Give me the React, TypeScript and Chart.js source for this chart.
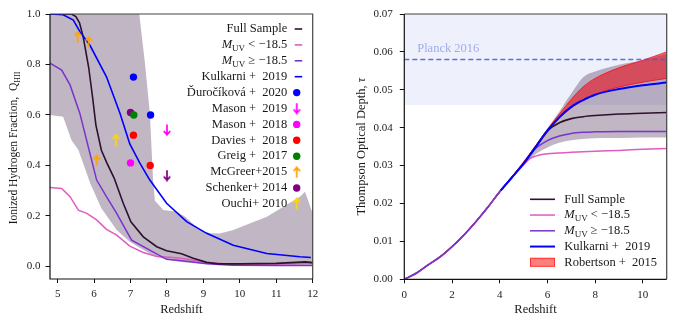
import React, { useEffect, useRef } from 'react';
import { Chart, registerables } from 'chart.js';

Chart.register(...registerables);

const FONT = '"Liberation Serif", "DejaVu Serif", serif';
const TEXT = '#1a1a1a';

// ---------------- Left panel: ionized hydrogen fraction ----------------
const bandZ = [4.79, 5.15, 5.38, 5.57, 5.89, 6.2, 6.62, 6.98, 7.24, 7.4, 7.53, 7.62, 7.67, 7.9, 8.27, 8.5, 8.9, 9.18, 9.45, 9.82, 10.74, 11.65, 11.79, 12.0];
const bandUpper = [1, 1, 1, 1, 1, 1, 1, 1, 1, 0.8, 0.607, 0.34, 0.26, 0.223, 0.216, 0.197, 0.144, 0.131, 0.13, 0.144, 0.197, 0.276, 0.296, 0.21];
const bandLower = [0.6, 0.593, 0.5, 0.461, 0.33, 0.23, 0.144, 0.098, 0.075, 0.062, 0.05, 0.045, 0.042, 0.03, 0.02, 0.015, 0.011, 0.009, 0.007, 0.006, 0.005, 0.005, 0.005, 0.005];

const fullZ = [4.79, 5.0, 5.38, 5.5, 5.6, 5.7, 5.85, 5.95, 6.05, 6.2, 6.35, 6.55, 6.8, 7.01, 7.35, 7.72, 7.99, 8.4, 8.72, 9.09, 9.41, 10, 11, 11.8, 12];
const fullQ = [1, 1, 1, 0.99, 0.965, 0.91, 0.79, 0.68, 0.56, 0.46, 0.41, 0.35, 0.25, 0.177, 0.117, 0.078, 0.062, 0.05, 0.032, 0.016, 0.01, 0.01, 0.012, 0.018, 0.015];

const faintZ = [4.79, 5.11, 5.34, 5.61, 5.84, 6.07, 6.34, 6.62, 7.03, 7.44, 7.99, 8.54, 9.09, 9.8, 11, 12];
const faintQ = [0.805, 0.778, 0.719, 0.606, 0.474, 0.342, 0.276, 0.21, 0.104, 0.071, 0.028, 0.02, 0.01, 0.004, 0.003, 0.003];

const brightZ = [4.79, 5.11, 5.34, 5.57, 5.8, 6.07, 6.34, 6.62, 6.98, 7.35, 7.72, 8.17, 8.54, 9.09, 9.8, 11, 12];
const brightQ = [0.313, 0.309, 0.276, 0.223, 0.21, 0.184, 0.147, 0.124, 0.08, 0.055, 0.039, 0.035, 0.029, 0.015, 0.008, 0.009, 0.012];

const kulkZ = [4.79, 5.15, 5.43, 5.61, 5.89, 6.34, 6.71, 6.98, 7.26, 7.53, 7.99, 8.54, 9.09, 9.82, 10.74, 11.65, 11.95];
const kulkQ = [1.0, 0.997, 0.976, 0.93, 0.875, 0.751, 0.607, 0.485, 0.408, 0.342, 0.25, 0.177, 0.131, 0.084, 0.051, 0.038, 0.035];

const durocZ = [7.08, 7.55];
const durocQ = [0.75, 0.6];
const mason19Z = [8.0];
const mason19Q = [0.54];
const mason18Z = [7.0];
const mason18Q = [0.41];
const daviesZ = [7.08, 7.54];
const daviesQ = [0.52, 0.4];
const greigZ = [7.09];
const greigQ = [0.6];
const mcgreerZ = [5.55, 5.85, 6.07];
const mcgreerQ = [0.91, 0.89, 0.42];
const schenkerZ = [7.0];
const schenkerQ = [0.61];
const schenkerLimZ = [8.0];
const schenkerLimQ = [0.36];
const ouchiZ = [6.6];
const ouchiQ = [0.5];

// ---------------- Right panel: optical depth ----------------
const tauZ = [0, 0.5, 1, 1.5, 2, 2.5, 3, 3.5, 4, 4.5, 5, 5.5, 6, 6.5, 7, 7.5, 8, 9, 10, 11];
const tauFull = [0, 0.0016, 0.0038, 0.0059, 0.0086, 0.0117, 0.0152, 0.019, 0.0231, 0.0268, 0.0306, 0.035, 0.0392, 0.0413, 0.0424, 0.0429, 0.0432, 0.0436, 0.0438, 0.044];
const tauFaint = [0, 0.0016, 0.0038, 0.0059, 0.0086, 0.0117, 0.0152, 0.019, 0.0231, 0.0268, 0.0305, 0.0345, 0.0366, 0.0378, 0.0385, 0.0388, 0.0389, 0.039, 0.039, 0.039];
const tauBrightZ = [0, 0.5, 1, 1.5, 2, 2.5, 3, 3.5, 4, 4.5, 5, 5.25, 5.5, 6, 7, 8, 9, 10, 11];
const tauBright = [0, 0.0016, 0.0038, 0.0059, 0.0086, 0.0117, 0.0152, 0.019, 0.0231, 0.0268, 0.0302, 0.0318, 0.0325, 0.0331, 0.0335, 0.0338, 0.034, 0.0343, 0.0345];
const tauKulkZ = [4.05, 4.5, 5, 5.5, 6, 6.5, 7, 7.5, 8, 9, 10, 11];
const tauKulk = [0.0235, 0.0268, 0.0305, 0.0348, 0.0392, 0.0428, 0.0455, 0.0473, 0.0487, 0.0502, 0.0512, 0.0519];
const robUpper = [0, 0.0016, 0.0038, 0.006, 0.0087, 0.0118, 0.0153, 0.0191, 0.0233, 0.027, 0.031, 0.0352, 0.0396, 0.0436, 0.0475, 0.0508, 0.053, 0.0558, 0.0578, 0.06];
const robLower = [0, 0.0016, 0.0038, 0.0059, 0.0086, 0.0117, 0.0152, 0.019, 0.0231, 0.0268, 0.0306, 0.0348, 0.0388, 0.0424, 0.0452, 0.0472, 0.0488, 0.0507, 0.052, 0.053];
const tauBandZ = [4.5, 5, 5.5, 6, 6.5, 7, 7.5, 8, 8.5, 9, 10, 11];
const tauBandUpper = [0.0268, 0.031, 0.0352, 0.0398, 0.0443, 0.049, 0.0533, 0.0548, 0.0558, 0.0566, 0.0578, 0.0595];
const tauBandLower = [0.0268, 0.0303, 0.033, 0.0348, 0.036, 0.0367, 0.037, 0.0372, 0.0373, 0.0373, 0.0374, 0.0374];
const planckTau = 0.058;
const planckLow = 0.046;
const planckHigh = 0.07;
const planckLabel = 'Planck 2016';

// ---------------- Colours ----------------
const C_FULL = '#2e1131';
const C_BRIGHT = '#e05cbf';
const C_FAINT = '#7a33cc';
const C_KULK = '#0000ff';
const C_BAND = 'rgba(50,14,56,0.3)';

type Run = { t: string; it?: boolean; sub?: boolean };
const MUV_LT: Run[] = [{ t: 'M', it: true }, { t: 'UV', sub: true }, { t: ' < \u221218.5' }];
const MUV_GE: Run[] = [{ t: 'M', it: true }, { t: 'UV', sub: true }, { t: ' \u2265 \u221218.5' }];

const leftLegendLabels: Run[][] = [
  [{ t: 'Full Sample' }],
  MUV_LT,
  MUV_GE,
  [{ t: 'Kulkarni +  2019' }],
  [{ t: '\u010Euro\u010D\u00EDkov\u00E1 +  2020' }],
  [{ t: 'Mason +  2019' }],
  [{ t: 'Mason +  2018' }],
  [{ t: 'Davies +  2018' }],
  [{ t: 'Greig +  2017' }],
  [{ t: 'McGreer+2015' }],
  [{ t: 'Schenker+ 2014' }],
  [{ t: 'Ouchi+ 2010' }],
];
const rightLegendLabels: Run[][] = [
  [{ t: 'Full Sample' }],
  MUV_LT,
  MUV_GE,
  [{ t: 'Kulkarni +  2019' }],
  [{ t: 'Robertson +  2015' }],
];
const leftYTitle: Run[] = [{ t: 'Ionized Hydrogen Fraction,  Q' }, { t: 'HII', sub: true }];
const rightYTitle: Run[] = [{ t: 'Thompson Optical Depth, ' }, { t: '\u03C4', it: true }];
const xTitle = 'Redshift';

const pts = (xs: number[], ys: number[]) => xs.map((x, i) => ({ x, y: ys[i] }));

function drawRuns(ctx: CanvasRenderingContext2D, runs: Run[], x: number, y: number, size: number, align: 'left' | 'right' | 'center') {
  const fnt = (r: Run) => `${r.it ? 'italic ' : ''}${r.sub ? Math.round(size * 0.72) : size}px ${FONT}`;
  let total = 0;
  const ws = runs.map((r) => {
    ctx.font = fnt(r);
    const w = ctx.measureText(r.t).width;
    total += w;
    return w;
  });
  let cx = align === 'right' ? x - total : align === 'center' ? x - total / 2 : x;
  ctx.textAlign = 'left';
  ctx.textBaseline = 'middle';
  runs.forEach((r, i) => {
    ctx.font = fnt(r);
    ctx.fillText(r.t, cx, r.sub ? y + size * 0.3 : y);
    cx += ws[i];
  });
}

function makeArrow(color: string, up: boolean, w = 8, h = 12): HTMLCanvasElement {
  const c = document.createElement('canvas');
  c.width = w;
  c.height = h;
  const g = c.getContext('2d')!;
  g.strokeStyle = color;
  g.lineWidth = 1.7;
  g.lineCap = 'round';
  g.lineJoin = 'round';
  const mx = w / 2;
  g.beginPath();
  if (up) {
    g.moveTo(mx, h - 1);
    g.lineTo(mx, 1.2);
    g.moveTo(1.2, 4.5);
    g.quadraticCurveTo(mx - 1, 3.0, mx, 1.2);
    g.quadraticCurveTo(mx + 1, 3.0, w - 1.2, 4.5);
  } else {
    g.moveTo(mx, 1);
    g.lineTo(mx, h - 1.2);
    g.moveTo(1.2, h - 4.5);
    g.quadraticCurveTo(mx - 1, h - 3.0, mx, h - 1.2);
    g.quadraticCurveTo(mx + 1, h - 3.0, w - 1.2, h - 4.5);
  }
  g.stroke();
  return c;
}

const spinePlugin = {
  id: 'spines',
  afterDatasetsDraw(chart: any) {
    const { ctx, chartArea: a } = chart;
    ctx.save();
    ctx.lineWidth = 1.2;
    ctx.strokeStyle = '#444';
    ctx.beginPath();
    ctx.moveTo(a.left, a.top);
    ctx.lineTo(a.right, a.top);
    ctx.lineTo(a.right, a.bottom);
    ctx.stroke();
    ctx.strokeStyle = '#111';
    ctx.beginPath();
    ctx.moveTo(a.left, a.top);
    ctx.lineTo(a.left, a.bottom);
    ctx.lineTo(a.right, a.bottom);
    ctx.stroke();
    ctx.restore();
  },
};

const tickFont = { family: FONT, size: 11 };
const titleFont = { family: FONT, size: 12.5 };

function axisX(min: number, max: number, step: number, fmt: (v: number) => string, height: number) {
  return {
    type: 'linear',
    min,
    max,
    ticks: { stepSize: step, includeBounds: false, font: tickFont, color: TEXT, padding: 5, maxRotation: 0, autoSkip: false, callback: (v: any) => fmt(Number(v)) },
    grid: { display: true, drawOnChartArea: false, drawTicks: true, tickLength: 4, tickColor: '#111', tickWidth: 1 },
    border: { display: false },
    title: { display: true, text: xTitle, font: titleFont, color: TEXT, padding: { top: 0, bottom: 8 } },
    afterFit: (s: any) => {
      s.height = height;
    },
  };
}
function axisY(min: number, max: number, step: number, fmt: (v: number) => string, width: number, pad: number) {
  return {
    type: 'linear',
    min,
    max,
    ticks: { stepSize: step, includeBounds: false, font: tickFont, color: TEXT, padding: pad, autoSkip: false, callback: (v: any) => fmt(Number(v)) },
    grid: { display: true, drawOnChartArea: false, drawTicks: true, tickLength: 4.5, tickColor: '#111', tickWidth: 1 },
    border: { display: false },
    afterFit: (s: any) => {
      s.width = width;
    },
  };
}

function lineDs(data: any[], color: string, width: number, order: number, extra: any = {}) {
  return { data, borderColor: color, backgroundColor: color, borderWidth: width, pointRadius: 0, pointHoverRadius: 0, tension: 0, fill: false, order, ...extra };
}
function dotDs(data: any[], color: string, order: number) {
  return { data, showLine: false, pointRadius: 3.7, pointBorderWidth: 0, pointBackgroundColor: color, pointBorderColor: color, borderColor: color, backgroundColor: color, order };
}
function imgDs(data: any[], img: HTMLCanvasElement, order: number) {
  return { data, showLine: false, pointStyle: img, pointRadius: 5, order, borderColor: 'transparent', backgroundColor: 'transparent' };
}

export default function App() {
  const leftRef = useRef<HTMLCanvasElement>(null);
  const rightRef = useRef<HTMLCanvasElement>(null);

  useEffect(() => {
    const arrowMason = makeArrow('#ff00ff', false);
    const arrowSchenker = makeArrow('#800080', false);
    const arrowMcGreer = makeArrow('#ffa500', true);
    const arrowOuchi = makeArrow('#ffd700', true, 9, 13);

    type Marker = { kind: 'line' | 'dot' | 'img'; color: string; img?: HTMLCanvasElement };
    const leftMarkers: Marker[] = [
      { kind: 'line', color: C_FULL },
      { kind: 'line', color: C_BRIGHT },
      { kind: 'line', color: C_FAINT },
      { kind: 'line', color: C_KULK },
      { kind: 'dot', color: '#0000ff' },
      { kind: 'img', color: '#ff00ff', img: arrowMason },
      { kind: 'dot', color: '#ff00ff' },
      { kind: 'dot', color: '#ff0000' },
      { kind: 'dot', color: '#008000' },
      { kind: 'img', color: '#ffa500', img: arrowMcGreer },
      { kind: 'dot', color: '#800080' },
      { kind: 'img', color: '#ffd700', img: arrowOuchi },
    ];

    const leftDeco = {
      id: 'leftDeco',
      afterDraw(chart: any) {
        const { ctx, chartArea: a } = chart;
        ctx.save();
        ctx.fillStyle = TEXT;
        // y title
        ctx.save();
        ctx.translate(14, (a.top + a.bottom) / 2 + 1.5);
        ctx.rotate(-Math.PI / 2);
        drawRuns(ctx, leftYTitle, 0, 0, 11.5, 'center');
        ctx.restore();
        // legend
        const textRight = a.right - 25.4;
        const mx = a.right - 14.5;
        leftLegendLabels.forEach((runs, i) => {
          const y = a.top + 15 + i * 15.9;
          ctx.fillStyle = TEXT;
          drawRuns(ctx, runs, textRight, y, 12.5, 'right');
          const m = leftMarkers[i];
          if (m.kind === 'line') {
            ctx.strokeStyle = m.color;
            ctx.lineWidth = 1.6;
            ctx.beginPath();
            ctx.moveTo(mx - 3.5, y);
            ctx.lineTo(mx + 4, y);
            ctx.stroke();
          } else if (m.kind === 'dot') {
            ctx.fillStyle = m.color;
            ctx.beginPath();
            ctx.arc(mx - 1.5, y, 3.7, 0, Math.PI * 2);
            ctx.fill();
          } else if (m.img) {
            ctx.drawImage(m.img, mx - 1.5 - m.img.width / 2, y - m.img.height / 2);
          }
        });
        ctx.restore();
      },
    };

    const left = new Chart(leftRef.current!, {
      type: 'line',
      data: {
        datasets: [
          lineDs(pts(bandZ, bandLower), 'transparent', 0, 20),
          lineDs(pts(bandZ, bandUpper), 'transparent', 0, 20, { fill: '-1', backgroundColor: C_BAND }),
          lineDs(pts(brightZ, brightQ), C_BRIGHT, 1.5, 9),
          lineDs(pts(faintZ, faintQ), C_FAINT, 1.5, 8),
          lineDs(pts(fullZ, fullQ), C_FULL, 1.6, 7),
          lineDs(pts(kulkZ, kulkQ), C_KULK, 1.6, 6),
          dotDs(pts(schenkerZ, schenkerQ), '#800080', 4),
          dotDs(pts(durocZ, durocQ), '#0000ff', 3),
          dotDs(pts(mason18Z, mason18Q), '#ff00ff', 3),
          dotDs(pts(daviesZ, daviesQ), '#ff0000', 3),
          dotDs(pts(greigZ, greigQ), '#008000', 2),
          imgDs(pts(mason19Z, mason19Q), arrowMason, 2),
          imgDs(pts(schenkerLimZ, schenkerLimQ), arrowSchenker, 2),
          imgDs(pts(mcgreerZ, mcgreerQ), arrowMcGreer, 2),
          imgDs(pts(ouchiZ, ouchiQ), arrowOuchi, 2),
        ] as any,
      },
      options: {
        animation: false,
        responsive: false,
        events: [],
        layout: { padding: { left: 0, top: 14, right: 27.3, bottom: 0 }, autoPadding: false } as any,
        plugins: { legend: { display: false }, tooltip: { enabled: false } },
        scales: {
          x: axisX(4.79, 12, 1, (v) => String(Math.round(v)), 46),
          y: axisY(-0.05, 1.0, 0.2, (v) => v.toFixed(1), 50, 5),
        } as any,
      },
      plugins: [spinePlugin, leftDeco],
    });

    const rightMarkers = [
      { color: C_FULL, w: 1.6 },
      { color: C_BRIGHT, w: 1.5 },
      { color: C_FAINT, w: 1.5 },
      { color: C_KULK, w: 2 },
      { color: 'box', w: 1 },
    ];
    const rightDeco = {
      id: 'rightDeco',
      afterDatasetsDraw(chart: any) {
        const { ctx, scales } = chart;
        ctx.save();
        ctx.fillStyle = 'rgba(105,125,225,0.6)';
        ctx.font = `12.5px ${FONT}`;
        ctx.textAlign = 'left';
        ctx.textBaseline = 'middle';
        ctx.fillText(planckLabel, scales.x.getPixelForValue(0.54), scales.y.getPixelForValue(0.0608));
        ctx.restore();
      },
      afterDraw(chart: any) {
        const { ctx, chartArea: a } = chart;
        ctx.save();
        ctx.fillStyle = TEXT;
        ctx.save();
        ctx.translate(22, (a.top + a.bottom) / 2);
        ctx.rotate(-Math.PI / 2);
        drawRuns(ctx, rightYTitle, 0, 0, 12.5, 'center');
        ctx.restore();
        const x0 = a.left + 125.7;
        const x1 = x0 + 25;
        const tx = x1 + 9.3;
        rightLegendLabels.forEach((runs, i) => {
          const y = a.top + 185.3 + i * 15.75;
          const m = rightMarkers[i];
          if (m.color === 'box') {
            ctx.fillStyle = 'rgba(255,0,0,0.5)';
            ctx.fillRect(x0, y - 4.5, x1 - x0, 9);
            ctx.strokeStyle = 'rgba(255,0,0,0.6)';
            ctx.lineWidth = 1;
            ctx.strokeRect(x0 + 0.5, y - 4, x1 - x0 - 1, 8);
          } else {
            ctx.strokeStyle = m.color;
            ctx.lineWidth = m.w;
            ctx.beginPath();
            ctx.moveTo(x0, y);
            ctx.lineTo(x1, y);
            ctx.stroke();
          }
          ctx.fillStyle = TEXT;
          drawRuns(ctx, runs, tx, y, 12.5, 'left');
        });
        ctx.restore();
      },
    };

    const mono = { cubicInterpolationMode: 'monotone' };
    const right = new Chart(rightRef.current!, {
      type: 'line',
      data: {
        datasets: [
          lineDs([{ x: 0, y: planckHigh }, { x: 11, y: planckHigh }], 'transparent', 0, 30, { fill: { value: planckLow }, backgroundColor: 'rgba(100,120,230,0.11)' }),
          lineDs(pts(tauBandZ, tauBandLower), 'transparent', 0, 20, mono),
          lineDs(pts(tauBandZ, tauBandUpper), 'transparent', 0, 20, { ...mono, fill: '-1', backgroundColor: C_BAND }),
          lineDs(pts(tauZ, robLower), 'rgba(255,0,0,0.75)', 1, 15, mono),
          lineDs(pts(tauZ, robUpper), 'rgba(255,0,0,0.75)', 1, 15, { ...mono, fill: '-1', backgroundColor: 'rgba(240,0,10,0.55)' }),
          lineDs(pts(tauZ, tauFull), C_FULL, 1.6, 9, mono),
          lineDs(pts(tauBrightZ, tauBright), C_BRIGHT, 1.5, 8, mono),
          lineDs(pts(tauZ, tauFaint), C_FAINT, 1.5, 7, mono),
          lineDs(pts(tauKulkZ, tauKulk), C_KULK, 2, 6, mono),
          lineDs([{ x: 0, y: planckTau }, { x: 11, y: planckTau }], 'rgba(70,90,215,0.85)', 1.3, 1, { borderDash: [5, 3] }),
        ] as any,
      },
      options: {
        animation: false,
        responsive: false,
        events: [],
        layout: { padding: { left: 0, top: 14, right: 10.3, bottom: 0 }, autoPadding: false } as any,
        plugins: { legend: { display: false }, tooltip: { enabled: false } },
        scales: {
          x: axisX(0, 11, 2, (v) => String(Math.round(v)), 45.7),
          y: axisY(0, 0.07, 0.01, (v) => v.toFixed(2), 64.3, 7),
        } as any,
      },
      plugins: [spinePlugin, rightDeco],
    });

    return () => {
      left.destroy();
      right.destroy();
    };
  }, []);

  return (
    <div style={{ position: 'absolute', left: 0, top: 0, width: 677, height: 325, background: '#fff' }}>
      <canvas ref={leftRef} width={340} height={325} style={{ position: 'absolute', left: 0, top: 0, width: 340, height: 325 }} />
      <canvas ref={rightRef} width={337} height={325} style={{ position: 'absolute', left: 340, top: 0, width: 337, height: 325 }} />
    </div>
  );
}
